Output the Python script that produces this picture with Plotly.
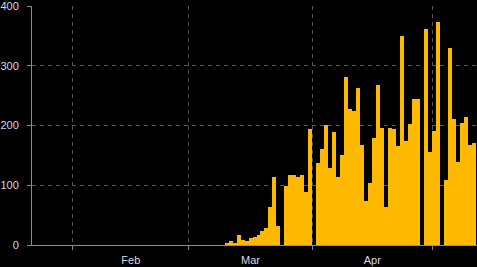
import pandas as pd
import plotly.graph_objects as go

start_date = "2020-01-22"
# daily values from Jan 22 to May 11, 2020
zeros_before = [0] * 48  # Jan 22 .. Mar 9
march_values = [2, 7, 3, 17, 9, 7, 12, 14, 17, 24, 28, 63, 114, 32, 0, 99, 117, 117,
                113, 117, 89, 194]  # Mar 10 .. Mar 31
april_values = [0, 137, 161, 201, 129, 189, 114, 151, 282, 227, 224, 262, 167, 74, 104,
                179, 267, 196, 64, 196, 194, 166, 349, 174, 202, 244, 244, 0, 361, 156]
may_values = [191, 374, 0, 109, 329, 211, 139, 204, 214, 167, 171]  # May 1 .. May 11

values = zeros_before + march_values + april_values + may_values
dates = pd.date_range(start_date, periods=len(values), freq="D")

y_ticks = [0, 100, 200, 300, 400]

bar_color = "#FFBA00"
grid_color = "#555555"
axis_color = "#8a8a8a"
font_color = "#d2dbe2"

fig = go.Figure(
    go.Bar(
        x=dates,
        y=values,
        xperiod=86400000,
        xperiodalignment="middle",
        marker=dict(color=bar_color, line=dict(width=0)),
    )
)

fig.update_layout(
    width=477,
    height=267,
    margin=dict(l=31, r=0, t=4, b=22),
    paper_bgcolor="black",
    plot_bgcolor="black",
    bargap=0,
    showlegend=False,
    font=dict(family="Arial, Liberation Sans, sans-serif", size=11, color=font_color),
)

fig.update_xaxes(
    type="date",
    range=["2020-01-21 18:00", "2020-05-12 06:00"],
    dtick="M1",
    tick0="2020-01-01",
    ticklabelmode="period",
    tickformat="%b",
    showgrid=True,
    gridcolor=grid_color,
    griddash="4px,4px",
    gridwidth=1,
    ticks="outside",
    ticklen=4,
    tickcolor=axis_color,
    showline=True,
    linecolor="#9a9070",
    linewidth=1,
    zeroline=False,
    ticklabelstandoff=1,
)

fig.update_yaxes(
    range=[0, 400],
    tickvals=y_ticks,
    showgrid=True,
    gridcolor=grid_color,
    griddash="4px,4px",
    gridwidth=1,
    ticks="outside",
    ticklen=4,
    tickcolor=axis_color,
    showline=True,
    linecolor=axis_color,
    linewidth=1,
    zeroline=False,
    ticklabelstandoff=6,
    ticklabeloverflow="allow",
)

fig.write_html("out.html")
